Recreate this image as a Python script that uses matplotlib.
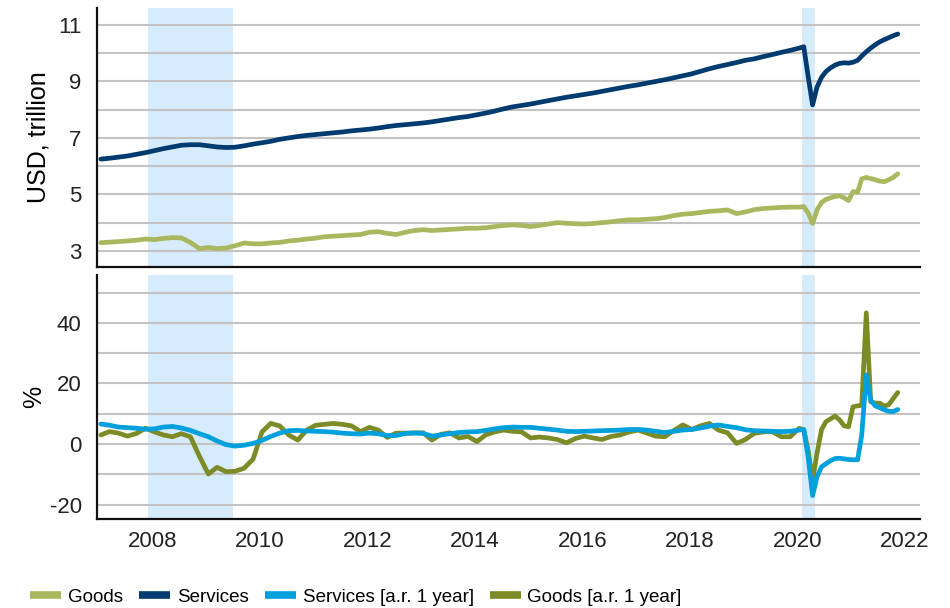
import matplotlib
matplotlib.use("Agg")
import matplotlib.pyplot as plt
import pandas as pd
import numpy as np
from datetime import datetime

# ---------------- data ----------------
# bimonthly observations 2007-01 .. 2019-11, monthly 2020-01 .. 2021-11
dates_early = pd.date_range("2007-01-01", "2019-11-01", freq="2MS") + pd.Timedelta(days=14)
dates_late = pd.date_range("2020-01-01", "2021-11-01", freq="MS") + pd.Timedelta(days=14)
dates = dates_early.append(dates_late)

services = [
    6.25, 6.28, 6.32, 6.36, 6.42, 6.48,
    6.55, 6.62, 6.68, 6.74, 6.76, 6.76,
    6.72, 6.68, 6.66, 6.67, 6.72, 6.78,
    6.83, 6.88, 6.95, 7.00, 7.05, 7.09,
    7.12, 7.15, 7.18, 7.21, 7.25, 7.28,
    7.31, 7.35, 7.40, 7.44, 7.47, 7.50,
    7.53, 7.57, 7.62, 7.67, 7.72, 7.76,
    7.82, 7.88, 7.95, 8.03, 8.10, 8.15,
    8.20, 8.26, 8.32, 8.38, 8.44, 8.49,
    8.54, 8.59, 8.65, 8.71, 8.77, 8.83,
    8.88, 8.94, 9.00, 9.06, 9.13, 9.20,
    9.27, 9.36, 9.45, 9.53, 9.60, 9.67,
    9.75, 9.80, 9.88, 9.95, 10.03, 10.10,
    10.18, 10.23, 9.20, 8.17, 8.80, 9.15, 9.35, 9.48, 9.58, 9.64, 9.66, 9.65,
    9.68, 9.75, 9.90, 10.05, 10.18, 10.30, 10.40, 10.48, 10.55, 10.62, 10.68,
]

goods = [
    3.29, 3.31, 3.33, 3.35, 3.38, 3.42,
    3.40, 3.44, 3.47, 3.46, 3.30, 3.08,
    3.12, 3.08, 3.10, 3.18, 3.28, 3.25,
    3.25, 3.28, 3.30, 3.35, 3.38, 3.42,
    3.45, 3.50, 3.52, 3.54, 3.56, 3.58,
    3.66, 3.68, 3.62, 3.58, 3.66, 3.72,
    3.75, 3.72, 3.74, 3.76, 3.78, 3.80,
    3.80, 3.82, 3.86, 3.90, 3.92, 3.90,
    3.86, 3.90, 3.95, 4.00, 3.98, 3.96,
    3.95, 3.97, 4.00, 4.03, 4.07, 4.10,
    4.10, 4.12, 4.14, 4.18, 4.25, 4.30,
    4.32, 4.36, 4.40, 4.42, 4.45, 4.32,
    4.38, 4.46, 4.50, 4.52, 4.54, 4.55,
    4.55, 4.57, 4.35, 3.97, 4.45, 4.72, 4.82, 4.88, 4.93, 4.95, 4.88, 4.78,
    5.10, 5.08, 5.55, 5.60, 5.56, 5.52, 5.47, 5.45, 5.52, 5.60, 5.73,
]

services_ar = [
    6.6, 6.2, 5.6, 5.4, 5.2, 4.9,
    5.0, 5.6, 5.8, 5.3, 4.5, 3.4,
    2.4, 1.0, -0.2, -0.7, -0.4, 0.2,
    1.2, 2.5, 3.6, 4.4, 4.5, 4.3,
    4.2, 4.1, 3.9, 3.6, 3.4, 3.3,
    3.6, 3.4, 2.8, 2.8, 3.5, 3.6,
    3.5, 2.6, 3.0, 3.4, 3.8, 4.0,
    4.1, 4.5, 5.0, 5.4, 5.6, 5.5,
    5.5, 5.2, 4.9, 4.6, 4.2, 4.1,
    4.2, 4.3, 4.4, 4.5, 4.6, 4.8,
    4.8, 4.6, 4.2, 3.8, 4.2, 4.6,
    4.8, 5.3, 5.9, 6.3, 5.8, 5.4,
    4.7, 4.4, 4.3, 4.2, 4.1, 4.2,
    4.6, 4.8, -4.0, -17.0, -10.8, -7.5, -6.5, -5.5, -4.8, -4.7, -4.9, -5.1,
    -5.2, -5.2, 3.0, 22.8, 14.5, 12.6, 12.0, 11.3, 10.8, 10.7, 11.4,
]

goods_ar = [
    3.0, 4.1, 3.6, 2.6, 3.5, 5.2,
    4.0, 3.0, 2.4, 3.4, 2.4, -4.0,
    -9.9, -7.7, -9.1, -9.0, -8.0, -5.0,
    4.0, 6.8, 6.0, 3.0, 1.3, 4.6,
    6.2, 6.5, 6.8, 6.5, 6.0, 4.1,
    5.5, 4.6, 2.2, 3.6, 3.6, 3.7,
    3.7, 1.3, 3.2, 3.7, 2.0, 2.5,
    0.8, 3.0, 4.0, 4.6, 4.2, 4.0,
    2.0, 2.3, 2.0, 1.5, 0.4, 1.8,
    2.6, 2.0, 1.5, 2.5, 3.0, 4.0,
    4.6, 3.6, 2.6, 2.4, 4.5, 6.3,
    4.8, 6.0, 6.8, 4.6, 3.7, 0.2,
    1.5, 3.5, 4.0, 4.1, 2.4, 2.4,
    5.2, 4.6, -2.0, -12.0, -3.0, 4.8, 7.4, 8.3, 9.2, 8.0, 6.0, 5.7,
    12.3, 12.6, 12.8, 43.3, 14.0, 13.5, 13.5, 12.5, 13.0, 15.0, 17.0,
]

recessions = [("2007-12-01", "2009-07-01"), ("2020-02-01", "2020-05-01")]
year_ticks = [2008, 2010, 2012, 2014, 2016, 2018, 2020, 2022]

# ---------------- style ----------------
plt.rcParams["font.family"] = ["Liberation Sans", "DejaVu Sans"]
plt.rcParams["axes.unicode_minus"] = False
C_GOODS = "#a9b85e"
C_SERV = "#003b6f"
C_SERV_AR = "#00a0dc"
C_GOODS_AR = "#7d8b27"
C_SHADE = "#d6ebfb"
C_GRID = "#c3c3c3"

fig = plt.figure(figsize=(9.5, 6.08), dpi=100)
ax1 = fig.add_axes([0.1021, 0.5609, 0.8663, 0.4259])
ax2 = fig.add_axes([0.1021, 0.1464, 0.8663, 0.4013])

xmin, xmax = datetime(2006, 12, 20), datetime(2022, 4, 15)

for ax in (ax1, ax2):
    for s, e in recessions:
        ax.axvspan(pd.Timestamp(s), pd.Timestamp(e), color=C_SHADE, lw=0, zorder=0)
    ax.set_xlim(xmin, xmax)
    for sp in ("top", "right"):
        ax.spines[sp].set_visible(False)
    for sp in ("left", "bottom"):
        ax.spines[sp].set_linewidth(1.6)
        ax.spines[sp].set_color("#111111")
    ax.tick_params(axis="both", length=0, labelsize=16, colors="#222222")
    ax.tick_params(axis="y", pad=11)
    ax.tick_params(axis="x", pad=9)

# gridlines
for v in range(3, 12):
    ax1.axhline(v, color=C_GRID, lw=1.5, zorder=1)
for v in range(-20, 51, 10):
    ax2.axhline(v, color=C_GRID, lw=1.5, zorder=1)

lkw = dict(lw=3.4, solid_joinstyle="round", solid_capstyle="round", zorder=3)
l_goods, = ax1.plot(dates, goods, color=C_GOODS, label="Goods", **lkw)
l_serv, = ax1.plot(dates, services, color=C_SERV, label="Services", **lkw)
l_gar, = ax2.plot(dates, goods_ar, color=C_GOODS_AR, label="Goods [a.r. 1 year]", **lkw)
l_sar, = ax2.plot(dates, services_ar, color=C_SERV_AR, label="Services [a.r. 1 year]", **lkw)

ax1.set_ylim(2.43, 11.6)
ax1.set_yticks([3, 5, 7, 9, 11])
ax1.set_xticks([])
ax1.set_ylabel("USD, trillion", fontsize=18)

ax2.set_ylim(-24.75, 55.8)
ax2.set_yticks([-20, 0, 20, 40])
ax2.set_xticks([datetime(y, 1, 1) for y in year_ticks])
ax2.set_xticklabels([str(y) for y in year_ticks])
ax2.set_ylabel("%", fontsize=18)

ax1.yaxis.set_label_coords(-0.056, 0.5)
ax2.yaxis.set_label_coords(-0.062, 0.5)

fig.legend(handles=[l_goods, l_serv, l_sar, l_gar],
           labels=["Goods", "Services", "Services [a.r. 1 year]", "Goods [a.r. 1 year]"],
           loc="lower left", bbox_to_anchor=(0.022, -0.012), ncol=4, frameon=False,
           fontsize=13.5, handlelength=1.65, handletextpad=0.37, columnspacing=0.85,
           borderaxespad=0.1)
for lh in fig.legends[0].get_lines():
    lh.set_linewidth(5.5)
    lh.set_solid_capstyle("butt")

fig.savefig("out.png", dpi=100)
